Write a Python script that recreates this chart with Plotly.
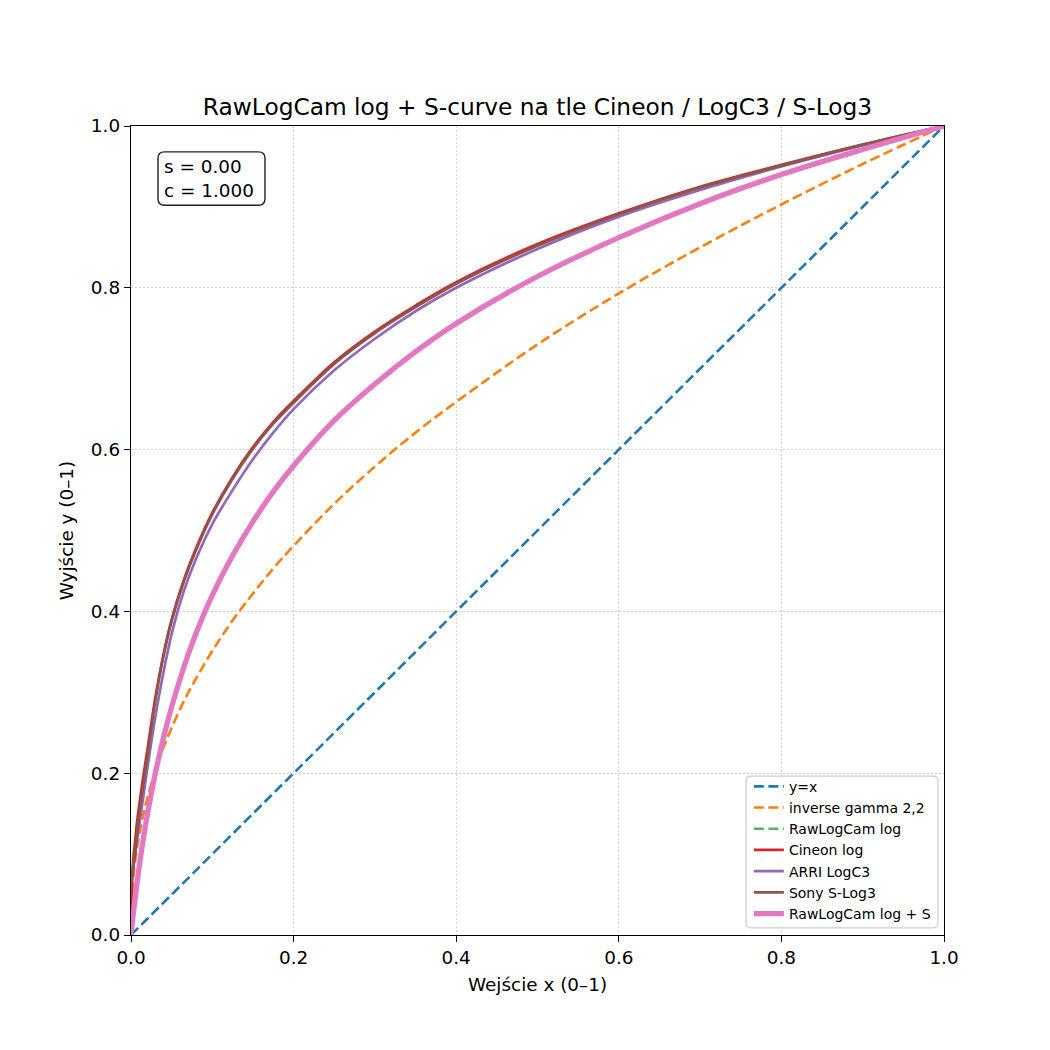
import plotly.graph_objects as go

# values
x_grid = [0, 0.0025, 0.005, 0.0075, 0.01, 0.015, 0.02, 0.03, 0.04, 0.05, 0.065,
          0.08, 0.1, 0.125, 0.15, 0.175, 0.2, 0.25, 0.3, 0.35, 0.4, 0.5, 0.6,
          0.7, 0.8, 0.9, 1.0]

identity_x = [0, 1]
identity_y = [0, 1]

gamma_y = [0, 0.066, 0.090, 0.108, 0.123, 0.148, 0.169, 0.203, 0.232, 0.256,
           0.289, 0.317, 0.351, 0.389, 0.422, 0.453, 0.481, 0.533, 0.579,
           0.621, 0.659, 0.730, 0.793, 0.850, 0.903, 0.953, 1.0]

rawlog_y = [0, 0.023, 0.045, 0.065, 0.084, 0.118, 0.148, 0.200, 0.244, 0.282,
            0.331, 0.373, 0.420, 0.469, 0.511, 0.548, 0.580, 0.636, 0.681,
            0.721, 0.756, 0.814, 0.862, 0.904, 0.940, 0.971, 1.0]

cineon_y = [0.025, 0.090, 0.115, 0.140, 0.160, 0.195, 0.228, 0.294, 0.347,
            0.390, 0.439, 0.478, 0.522, 0.566, 0.603, 0.634, 0.660, 0.708,
            0.746, 0.778, 0.807, 0.854, 0.892, 0.925, 0.952, 0.977, 1.0]

logc3_y = [0.070, 0.085, 0.100, 0.118, 0.135, 0.170, 0.205, 0.270, 0.325,
           0.372, 0.425, 0.465, 0.508, 0.550, 0.588, 0.621, 0.650, 0.698,
           0.737, 0.771, 0.800, 0.848, 0.888, 0.921, 0.950, 0.976, 1.0]

slog3_y = [0.060, 0.080, 0.100, 0.125, 0.150, 0.185, 0.220, 0.290, 0.345,
           0.388, 0.437, 0.476, 0.520, 0.564, 0.601, 0.632, 0.658, 0.706,
           0.744, 0.776, 0.805, 0.852, 0.891, 0.924, 0.951, 0.977, 1.0]

rawlog_s_y = rawlog_y  # s = 0, c = 1 -> same as plain log

param_text = "s = 0.00<br>c = 1.000"

FONT = "DejaVu Sans"
DASH = "10px,4.5px"


def add_line(fig, x, y, name, color, width, dash=None, opacity=1.0):
    fig.add_trace(go.Scatter(
        x=x, y=y, mode="lines", name=name, opacity=opacity,
        line=dict(color=color, width=width, dash=dash, shape="spline", smoothing=1.0),
    ))


def rounded_box(x0, y0, x1, y1, r):
    # rounded rectangle path in axis units (axes are 0..1 square)
    return (f"M {x0 + r},{y0} L {x1 - r},{y0} Q {x1},{y0} {x1},{y0 + r} "
            f"L {x1},{y1 - r} Q {x1},{y1} {x1 - r},{y1} L {x0 + r},{y1} "
            f"Q {x0},{y1} {x0},{y1 - r} L {x0},{y0 + r} Q {x0},{y0} {x0 + r},{y0} Z")


def main():
    fig = go.Figure()
    add_line(fig, identity_x, identity_y, "y=x", "#1f77b4", 2.6, DASH)
    add_line(fig, x_grid, gamma_y, "inverse gamma 2,2", "#ff7f0e", 2.6, DASH)
    add_line(fig, x_grid, rawlog_y, "RawLogCam log", "#2ca02c", 2.6, DASH, 0.8)
    add_line(fig, x_grid, cineon_y, "Cineon log", "#d62728", 2.7)
    add_line(fig, x_grid, logc3_y, "ARRI LogC3", "#9467bd", 2.7)
    add_line(fig, x_grid, slog3_y, "Sony S-Log3", "#8c564b", 2.7)
    add_line(fig, x_grid, rawlog_s_y, "RawLogCam log + S", "#e377c2", 5.3)

    axis = dict(
        range=[0, 1], dtick=0.2, tick0=0, tickformat=".1f",
        showline=True, linecolor="black", linewidth=1.4, mirror=True,
        ticks="outside", ticklen=6, tickcolor="black", tickwidth=1.4,
        showgrid=True, gridcolor="#d4d4d4", gridwidth=1.2, griddash="1.5px,2.5px",
        zeroline=False, tickfont=dict(size=18.4, color="black"),
    )
    fig.update_layout(
        width=1050, height=1050,
        margin=dict(l=123, r=114, t=118, b=123),
        paper_bgcolor="white", plot_bgcolor="white",
        font=dict(family=FONT, color="black"),
        title=dict(text="RawLogCam log + S-curve na tle Cineon / LogC3 / S-Log3",
                   x=0.5, xref="paper", xanchor="center",
                   y=1 - 99 / 1050, yanchor="middle", font=dict(size=23.3)),
        xaxis=dict(axis, title=dict(text="Wejście x (0–1)", font=dict(size=18.4), standoff=10)),
        yaxis=dict(axis, title=dict(text="Wyjście y (0–1)", font=dict(size=18.4), standoff=12)),
        legend=dict(x=0.760, y=0.203, xanchor="left", yanchor="top",
                    bgcolor="rgba(0,0,0,0)", borderwidth=0,
                    font=dict(size=14), tracegroupgap=0, itemwidth=30),
        showlegend=True,
    )
    # rounded frames like the matplotlib text box and legend
    fig.add_shape(type="path", path=rounded_box(0.0332, 0.902, 0.1648, 0.968, 0.008),
                  xref="x", yref="y", layer="above",
                  line=dict(color="#222222", width=1.4), fillcolor="white")
    fig.add_shape(type="path", path=rounded_box(0.7565, 0.0087, 0.9926, 0.1965, 0.006),
                  xref="x", yref="y", layer="above",
                  line=dict(color="#cccccc", width=1.2), fillcolor="rgba(255,255,255,0.8)")
    fig.add_annotation(
        text=param_text, xref="paper", yref="paper", x=0.039, y=0.935,
        xanchor="left", yanchor="middle", align="left", showarrow=False,
        font=dict(size=18.4, color="black"), borderpad=0,
    )
    fig.write_html("out.html")


if __name__ == "__main__":
    main()
